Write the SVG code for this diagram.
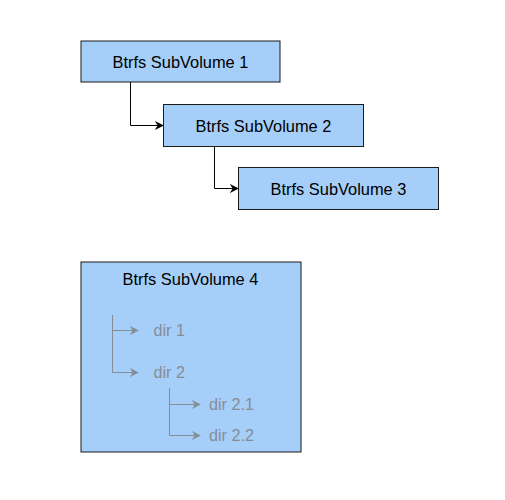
<svg xmlns="http://www.w3.org/2000/svg" width="505" height="500" viewBox="0 0 505 500">
<style>
.box{fill:#a5cef8;stroke:#1a1a1a;stroke-width:1}
.t{font-family:"Liberation Sans",Arial,sans-serif;font-size:16.4px;fill:#000}
.d{font-family:"Liberation Sans",Arial,sans-serif;font-size:16.2px;fill:#858d97}
.c{fill:none;stroke:#000;stroke-width:1}
.g{fill:none;stroke:#858d97;stroke-width:1}
</style>
<defs>
<marker id="ah" viewBox="0 0 10 10" refX="9" refY="5" markerWidth="9" markerHeight="9" markerUnits="userSpaceOnUse" orient="auto">
<path d="M0,0 L10,5 L0,10 L3,5 Z" fill="#000"/>
</marker>
<marker id="ahg" viewBox="0 0 10 10" refX="9" refY="5" markerWidth="9" markerHeight="9" markerUnits="userSpaceOnUse" orient="auto">
<path d="M0,0 L10,5 L0,10 L3,5 Z" fill="#858d97"/>
</marker>
</defs>
<rect width="505" height="500" fill="#fff"/>
<g id="sv1"><rect class="box" x="81" y="41" width="199" height="41"/><text class="t" x="180.5" y="67.5" text-anchor="middle">Btrfs SubVolume 1</text></g>
<g id="sv2"><rect class="box" x="163.5" y="104.5" width="200" height="42"/><text class="t" x="263.5" y="131.5" text-anchor="middle">Btrfs SubVolume 2</text></g>
<g id="sv3"><rect class="box" x="238.5" y="167.5" width="200" height="42"/><text class="t" x="338.5" y="194.5" text-anchor="middle">Btrfs SubVolume 3</text></g>
<g id="sv4"><rect class="box" x="81" y="262" width="220" height="190"/><text class="t" x="190.5" y="284.5" text-anchor="middle">Btrfs SubVolume 4</text>
<text class="d" x="153.5" y="336">dir 1</text>
<text class="d" x="153.5" y="378">dir 2</text>
<text class="d" x="209" y="410">dir 2.1</text>
<text class="d" x="209" y="441">dir 2.2</text>
<path class="g" d="M112.5,315 V372.5 H138" marker-end="url(#ahg)"/>
<path class="g" d="M112.5,330.5 H138" marker-end="url(#ahg)"/>
<path class="g" d="M169.5,388 V435.5 H200" marker-end="url(#ahg)"/>
<path class="g" d="M169.5,404.5 H200" marker-end="url(#ahg)"/>
</g>
<g id="connectors">
<path class="c" d="M130.5,82 V125.5 H163" marker-end="url(#ah)"/>
<path class="c" d="M214.5,146.5 V188.5 H238" marker-end="url(#ah)"/>
</g>
</svg>
